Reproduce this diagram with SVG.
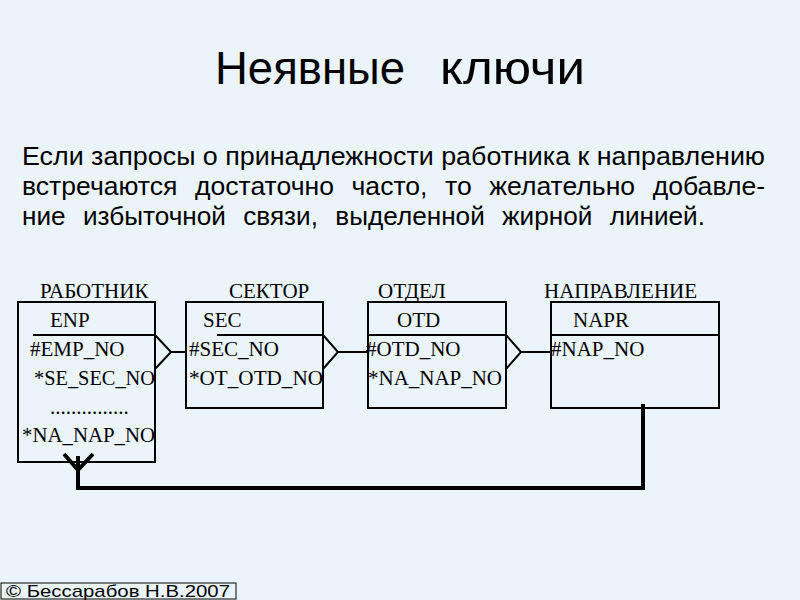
<svg xmlns="http://www.w3.org/2000/svg" width="800" height="600" viewBox="0 0 800 600">
<style>
.t{font-family:"Liberation Serif",serif;font-size:21px;fill:#000}
.b{fill:none;stroke:#000;stroke-width:2}
.c{fill:none;stroke:#000;stroke-width:2}
.s{font-family:"Liberation Sans",Arial,sans-serif;fill:#000}
</style>
<rect width="800" height="600" fill="#EAF4FA"/>
<text class="s" x="215" y="84" font-size="46" textLength="190" lengthAdjust="spacingAndGlyphs">Неявные</text>
<text class="s" x="440" y="84" font-size="46" textLength="145" lengthAdjust="spacingAndGlyphs">ключи</text>
<text class="s" font-size="26" textLength="743" lengthAdjust="spacingAndGlyphs" x="22" y="165">Если запросы о принадлежности работника к направлению</text>
<text class="s" font-size="26" textLength="743" lengthAdjust="spacingAndGlyphs" x="22" y="195" word-spacing="10">встречаются достаточно часто, то желательно добавле-</text>
<text class="s" font-size="26" x="22" y="225" textLength="683" lengthAdjust="spacingAndGlyphs" word-spacing="10">ние избыточной связи, выделенной жирной линией.</text>
<g id="n1"><text class="t" x="40" y="298">РАБОТНИК</text><rect class="b" x="18" y="302" width="137" height="160"/><line class="c" x1="33" y1="335" x2="155" y2="335"/>
<text class="t" x="50" y="327">ENP</text><text class="t" x="30" y="356">#EMP_NO</text><text class="t" x="34" y="385" textLength="121" lengthAdjust="spacingAndGlyphs">*SE_SEC_NO</text><text class="t" x="50" y="414">...............</text><text class="t" x="22" y="442" textLength="133" lengthAdjust="spacingAndGlyphs">*NA_NAP_NO</text></g>
<g id="n2"><text class="t" x="229" y="298">СЕКТОР</text><rect class="b" x="186" y="302" width="137" height="106"/><line class="c" x1="217" y1="335" x2="323" y2="335"/>
<text class="t" x="203" y="327">SEC</text><text class="t" x="189" y="356">#SEC_NO</text><text class="t" x="189" y="385" textLength="134" lengthAdjust="spacingAndGlyphs">*OT_OTD_NO</text></g>
<g id="n3"><text class="t" x="378" y="298">ОТДЕЛ</text><rect class="b" x="368" y="302" width="138" height="106"/><line class="c" x1="368" y1="335" x2="506" y2="335"/>
<text class="t" x="397" y="327">OTD</text><text class="t" x="366" y="356">#OTD_NO</text><text class="t" x="368" y="385" textLength="134" lengthAdjust="spacingAndGlyphs">*NA_NAP_NO</text></g>
<g id="n4"><text class="t" x="544" y="298">НАПРАВЛЕНИЕ</text><rect class="b" x="551" y="302" width="168" height="106"/><line class="c" x1="551" y1="335" x2="719" y2="335"/>
<text class="t" x="573" y="327">NAPR</text><text class="t" x="551" y="356">#NAP_NO</text></g>
<g id="connectors" fill="none" stroke="#000">
<path stroke-width="2" d="M155 335L171 352L155 369M171 352H186"/>
<path stroke-width="2" d="M323 335L338 352L323 369M338 352H368"/>
<path stroke-width="2" d="M506 335L521 352L506 369M521 352H551"/>
<path stroke-width="4" d="M64 454L78 470L93 454M78 456V488H643V404"/>
</g>
<rect x="1" y="583" width="235" height="16" fill="none" stroke="#000" stroke-width="1"/>
<text class="s" x="6" y="597" font-size="17" textLength="224" lengthAdjust="spacingAndGlyphs">© Бессарабов Н.В.2007</text>
</svg>
